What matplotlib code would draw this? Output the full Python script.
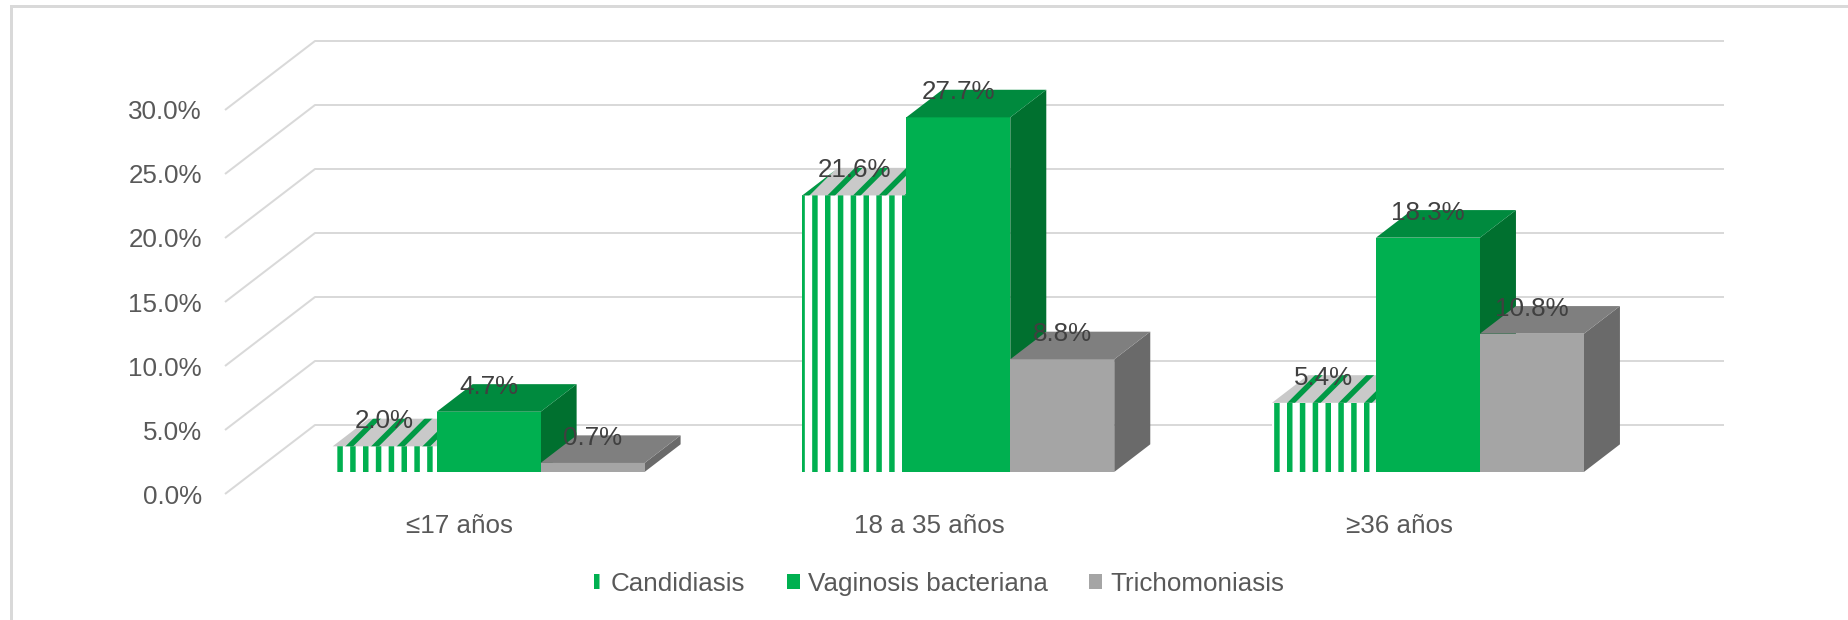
import numpy as np
import matplotlib
matplotlib.use('Agg')
import matplotlib.pyplot as plt
from matplotlib.patches import Polygon, Rectangle, Patch
from matplotlib.lines import Line2D

# Data
categories = ['≤17 años', '18 a 35 años', '≥36 años']
series = ['Candidiasis', 'Vaginosis bacteriana', 'Trichomoniasis']
candidiasis = [2.0, 21.6, 5.4]
vaginosis = [4.7, 27.7, 18.3]
trichomoniasis = [0.7, 8.8, 10.8]
yticks = [0, 5, 10, 15, 20, 25, 30]

# Style
DPI = 77  # hatch tile = 1 inch, so this sets stripe spacing
W, H = 1849, 620
def pt(px):
    return px * 72 / DPI

plt.rcParams['font.family'] = ['Liberation Sans', 'DejaVu Sans']
plt.rcParams['hatch.linewidth'] = pt(5.5)
FS = pt(26)

green = '#00B050'
faces = {
    'Candidiasis': dict(front='white', top='#C9C9C9', side='#007A36', hatch_f='|', hatch_t='/'),
    'Vaginosis bacteriana': dict(front=green, top='#008A3E', side='#00702F'),
    'Trichomoniasis': dict(front='#A5A5A5', top='#7F7F7F', side='#6A6A6A'),
}

fig = plt.figure(figsize=(W / DPI, H / DPI), dpi=DPI)
ax = fig.add_axes([225 / W, (H - 494) / H, 1409 / W, 384 / H])
ax.set_xlim(0, 3)
ax.set_ylim(0, 30)

# depth of the box (back wall) and of bars, in data units
DX = 90 / 469.7
DY = 69 / 12.8
f0, f1 = 0.32, 0.72
bw = 0.2214

# gridlines
for v in yticks:
    ax.plot([0, DX, 3 + DX], [v, v + DY, v + DY], color='#D9D9D9', lw=pt(2),
            clip_on=False, zorder=1, solid_capstyle='butt')

def bar3d(x0, val, st):
    x0 = x0 + f0 * DX
    b = f0 * DY
    t = b + val
    ddx, ddy = (f1 - f0) * DX, (f1 - f0) * DY
    x1 = x0 + bw
    hf = st.get('hatch_f')
    ht = st.get('hatch_t')
    front = Rectangle((x0, b), bw, val, facecolor=st['front'], lw=0,
                      edgecolor=green if hf else 'none', hatch=hf, clip_on=False, zorder=2)
    top = Polygon([(x0, t), (x1, t), (x1 + ddx, t + ddy), (x0 + ddx, t + ddy)],
                  facecolor=st['top'], lw=0, edgecolor='#009A45' if ht else 'none',
                  hatch=ht, clip_on=False, zorder=2)
    side = Polygon([(x1, b), (x1 + ddx, b + ddy), (x1 + ddx, t + ddy), (x1, t)],
                   facecolor=st['side'], lw=0, clip_on=False, zorder=2)
    for p in (side, front, top):
        ax.add_patch(p)
    ax.annotate(f'{val:.1f}%', (x0 + bw / 2, t), xytext=(0, pt(25)),
                textcoords='offset points', ha='center', va='center',
                fontsize=FS, color='#404040', zorder=5, annotation_clip=False)

data = [candidiasis, vaginosis, trichomoniasis]
for i in range(len(categories)):
    left = i + 0.5 - 1.5 * bw
    for j, name in enumerate(series):
        bar3d(left + j * bw, data[j][i], faces[name])

# axes
for s in ax.spines.values():
    s.set_visible(False)
ax.set_yticks(yticks)
ax.set_yticklabels([f'{v:.1f}%' for v in yticks])
ax.set_xticks([0.5, 1.5, 2.5])
ax.set_xticklabels(categories)
ax.tick_params(axis='y', length=0, pad=pt(23), labelsize=FS, labelcolor='#595959')
ax.tick_params(axis='x', length=0, pad=pt(20), labelsize=FS, labelcolor='#595959')

# legend
handles = [Patch(facecolor=faces[n]['front'], edgecolor=green if faces[n].get('hatch_f') else 'none',
                 hatch=faces[n].get('hatch_f'), lw=0) for n in series]
fig.legend(handles, series, loc='center', bbox_to_anchor=(937 / W, 1 - 584 / H),
           ncol=3, frameon=False, fontsize=FS, labelcolor='#595959',
           handlelength=0.5, handleheight=0.5, handletextpad=0.3, columnspacing=1.6)

# chart border (left and top visible)
fig.add_artist(Line2D([11 / W, 11 / W], [0, 1 - 6 / H], color='#D9D9D9', lw=pt(3)))
fig.add_artist(Line2D([11 / W, 1], [1 - 6 / H, 1 - 6 / H], color='#D9D9D9', lw=pt(3)))

fig.savefig('out.png', dpi=DPI, facecolor='white')
